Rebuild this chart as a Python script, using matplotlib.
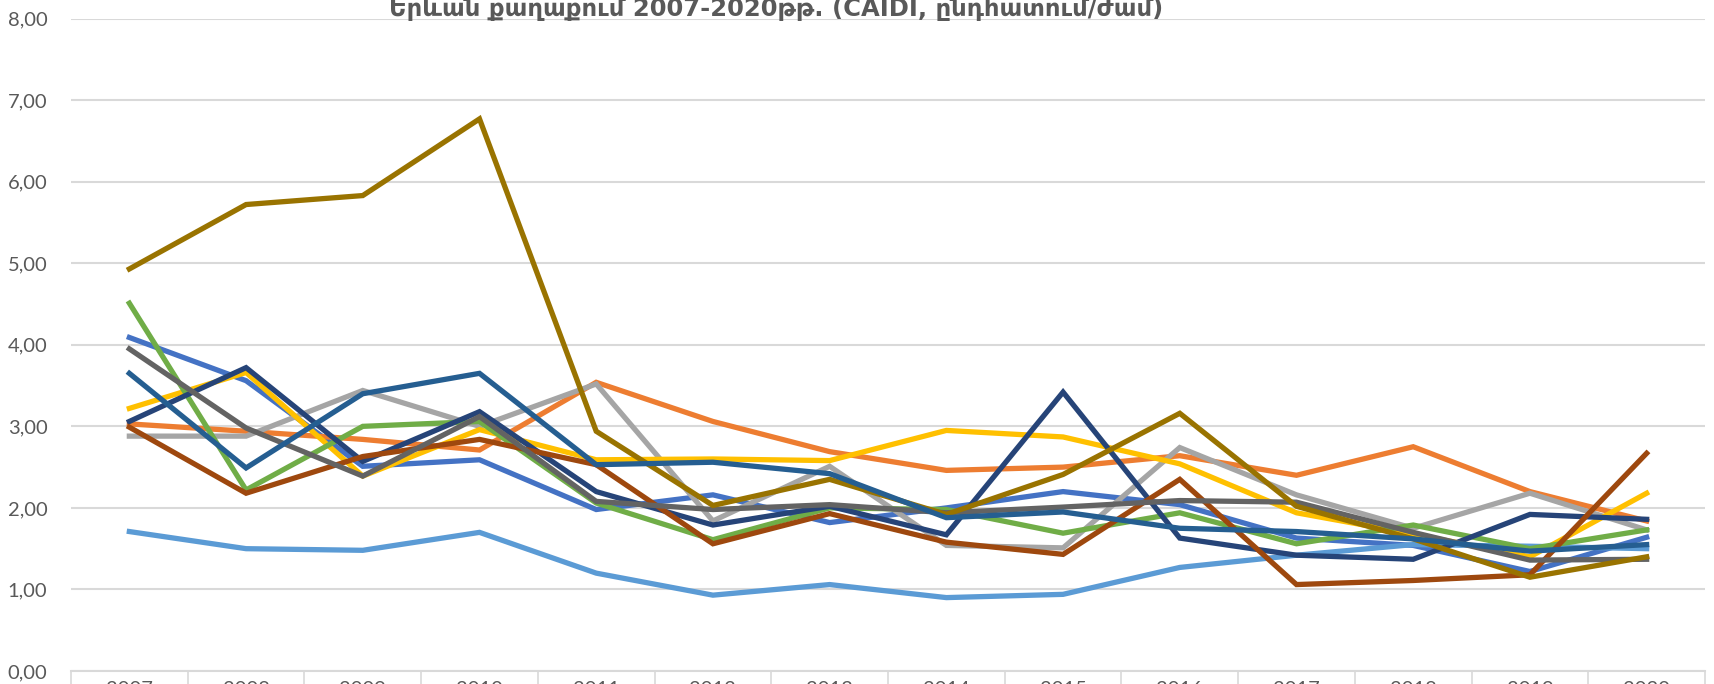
import numpy as np
import matplotlib
matplotlib.use("Agg")
import matplotlib.pyplot as plt
import matplotlib.ticker as ticker

years = ["2007", "2008", "2009", "2010", "2011", "2012", "2013",
         "2014", "2015", "2016", "2017", "2018", "2019", "2020"]

# CAIDI по сериям
s_blue = [4.09, 3.56, 2.51, 2.59, 1.98, 2.16, 1.82, 2.00, 2.20, 2.04, 1.63, 1.54, 1.22, 1.64]
s_orange = [3.03, 2.94, 2.84, 2.71, 3.54, 3.06, 2.69, 2.46, 2.50, 2.64, 2.40, 2.75, 2.20, 1.84]
s_lgray = [2.88, 2.88, 3.44, 3.00, 3.52, 1.84, 2.51, 1.54, 1.51, 2.74, 2.16, 1.75, 2.18, 1.73]
s_yellow = [3.22, 3.66, 2.39, 2.96, 2.59, 2.60, 2.58, 2.95, 2.87, 2.54, 1.94, 1.68, 1.40, 2.18]
s_lblue = [1.71, 1.50, 1.48, 1.70, 1.20, 0.93, 1.06, 0.90, 0.94, 1.27, 1.42, 1.55, 1.53, 1.50]
s_green = [4.51, 2.22, 3.00, 3.06, 2.06, 1.61, 2.00, 1.98, 1.69, 1.94, 1.56, 1.79, 1.50, 1.73]
s_navy = [3.06, 3.72, 2.57, 3.18, 2.20, 1.79, 2.02, 1.67, 3.42, 1.63, 1.42, 1.37, 1.92, 1.86]
s_brown = [2.99, 2.18, 2.63, 2.84, 2.53, 1.56, 1.93, 1.58, 1.43, 2.35, 1.06, 1.11, 1.18, 2.67]
s_dgray = [3.95, 2.98, 2.39, 3.12, 2.08, 1.98, 2.04, 1.94, 2.01, 2.09, 2.07, 1.70, 1.36, 1.37]
s_olive = [4.93, 5.72, 5.83, 6.77, 2.94, 2.03, 2.35, 1.92, 2.41, 3.16, 2.02, 1.62, 1.15, 1.40]
s_steel = [3.65, 2.49, 3.40, 3.65, 2.53, 2.56, 2.42, 1.88, 1.95, 1.75, 1.71, 1.62, 1.47, 1.55]

series = [s_blue, s_orange, s_lgray, s_yellow, s_lblue, s_green,
          s_navy, s_brown, s_dgray, s_olive, s_steel]
colors = ["#4472C4", "#ED7D31", "#A5A5A5", "#FFC000", "#5B9BD5", "#70AD47",
          "#264478", "#9E480E", "#636363", "#997300", "#255E91"]

title = "Երևան քաղաքում 2007-2020թթ. (CAIDI, ընդհատում/ժամ)"

fig = plt.figure(figsize=(17.14, 6.84), dpi=100)
ax = fig.add_axes([71 / 1714, 13 / 684, (1705 - 71) / 1714, (671 - 18.6) / 684])

x = np.arange(len(years))
for vals, c in zip(series, colors):
    ax.plot(x, vals, color=c, linewidth=3.8, solid_joinstyle="miter")

ax.set_xlim(-0.5, len(years) - 0.5)
ax.set_ylim(0, 8)

# сетка и оси в стиле Excel
ax.yaxis.set_major_locator(ticker.MultipleLocator(1))
ax.yaxis.set_major_formatter(ticker.FuncFormatter(lambda v, p: f"{v:.2f}".replace(".", ",")))
ax.grid(axis="y", color="#D9D9D9", linewidth=1.5)
ax.set_axisbelow(True)
for side in ["top", "right", "left"]:
    ax.spines[side].set_visible(False)
ax.spines["bottom"].set_color("#D9D9D9")
ax.spines["bottom"].set_linewidth(1.5)

ax.set_xticks(x)
ax.set_xticklabels(years)
ax.set_xticks(np.arange(-0.5, len(years)), minor=True)
ax.tick_params(axis="x", which="major", length=0, pad=7, labelsize=14.5, labelcolor="#595959")
ax.tick_params(axis="x", which="minor", length=12, width=1.2, color="#D9D9D9")
ax.tick_params(axis="y", length=0, pad=17, labelsize=14.5, labelcolor="#595959")
for lab in ax.get_xticklabels() + ax.get_yticklabels():
    lab.set_fontfamily("Lato")

fig.text(776 / 1714, 1 - 16 / 684, title, ha="center", va="baseline",
         fontsize=17.5, fontweight="bold", color="#595959", family=["DejaVu Sans"])

fig.savefig("out.png", dpi=100)
